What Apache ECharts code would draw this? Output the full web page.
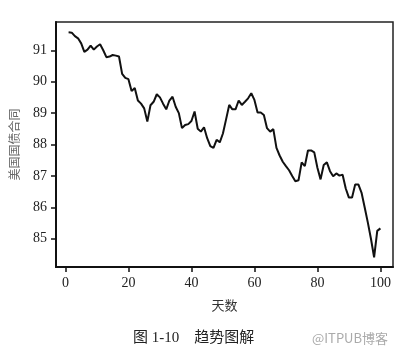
<!DOCTYPE html>
<html><head><meta charset="utf-8">
<script src="https://cdn.jsdelivr.net/npm/echarts@6/dist/echarts.min.js"></script>
<style>html,body{margin:0;padding:0;background:#fff}#c{width:401px;height:354px}</style>
</head><body><div id="c"></div>
<script>
var days = [];
for (var i = 1; i <= 100; i++) days.push(i);
var prices = [91.57,91.56,91.45,91.38,91.22,90.95,91.02,91.15,91.02,91.12,
91.19,91.0,90.78,90.8,90.85,90.83,90.8,90.25,90.12,90.08,
89.7,89.8,89.4,89.3,89.15,88.73,89.25,89.36,89.6,89.5,
89.3,89.12,89.4,89.52,89.2,89.0,88.52,88.62,88.65,88.75,
89.05,88.5,88.41,88.55,88.2,87.95,87.89,88.15,88.07,88.35,
88.8,89.26,89.12,89.12,89.4,89.26,89.36,89.47,89.63,89.42,
89.02,89.02,88.94,88.52,88.41,88.49,87.89,87.65,87.45,87.31,
87.18,87.0,86.83,86.86,87.43,87.31,87.81,87.81,87.75,87.26,
86.89,87.35,87.43,87.15,86.99,87.08,87.01,87.04,86.6,86.31,
86.31,86.73,86.73,86.47,86.0,85.52,85.0,84.41,85.25,85.33];
var xTicks = [0,20,40,60,80,100];
var yTicks = [85,86,87,88,89,90,91];

var chart = echarts.init(document.getElementById('c'));
var serif = 'Liberation Serif';
var cjk = 'Noto Sans CJK SC';
chart.setOption({
  animation: false,
  grid: {left: 49, right: 8, top: 22, bottom: 87, show: true, borderColor: '#222', borderWidth: 1.5},
  xAxis: {
    type: 'value', min: -3, max: 104,
    name: '天数', nameLocation: 'middle', nameGap: 32,
    nameTextStyle: {fontFamily: cjk, fontSize: 13, color: '#333'},
    axisLine: {show: true, onZero: false, lineStyle: {color: '#111', width: 2}},
    axisTick: {show: true, inside: false, length: 5, customValues: xTicks, lineStyle: {color: '#111', width: 1.5}},
    axisLabel: {customValues: xTicks, margin: 9, fontFamily: serif, fontSize: 14, color: '#222'},
    splitLine: {show: false}
  },
  yAxis: {
    type: 'value', min: 84.1, max: 91.9,
    name: '美国国债合同', nameLocation: 'middle', nameGap: 36, nameRotate: 90,
    nameTextStyle: {fontFamily: cjk, fontSize: 12, color: '#666'},
    axisLine: {show: true, onZero: false, lineStyle: {color: '#111', width: 2}},
    axisTick: {show: true, inside: false, length: 5, customValues: yTicks, lineStyle: {color: '#111', width: 1.5}},
    axisLabel: {customValues: yTicks, margin: 9, fontFamily: serif, fontSize: 14, color: '#222'},
    splitLine: {show: false}
  },
  series: [{
    type: 'line',
    data: days.map(function(d, i){ return [d, prices[i]]; }),
    showSymbol: false,
    lineStyle: {color: '#111', width: 2},
    silent: true
  }],
  graphic: [
    {type: 'text', left: 133, top: 331, style: {text: '图 1-10　趋势图解', font: '15px "Liberation Serif", "Noto Sans CJK SC"', fill: '#222'}},
    {type: 'text', left: 312, top: 332, style: {text: '@ITPUB博客', font: '13px "Noto Sans CJK SC"', fill: '#aaa'}}
  ]
});
</script>
</body></html>
